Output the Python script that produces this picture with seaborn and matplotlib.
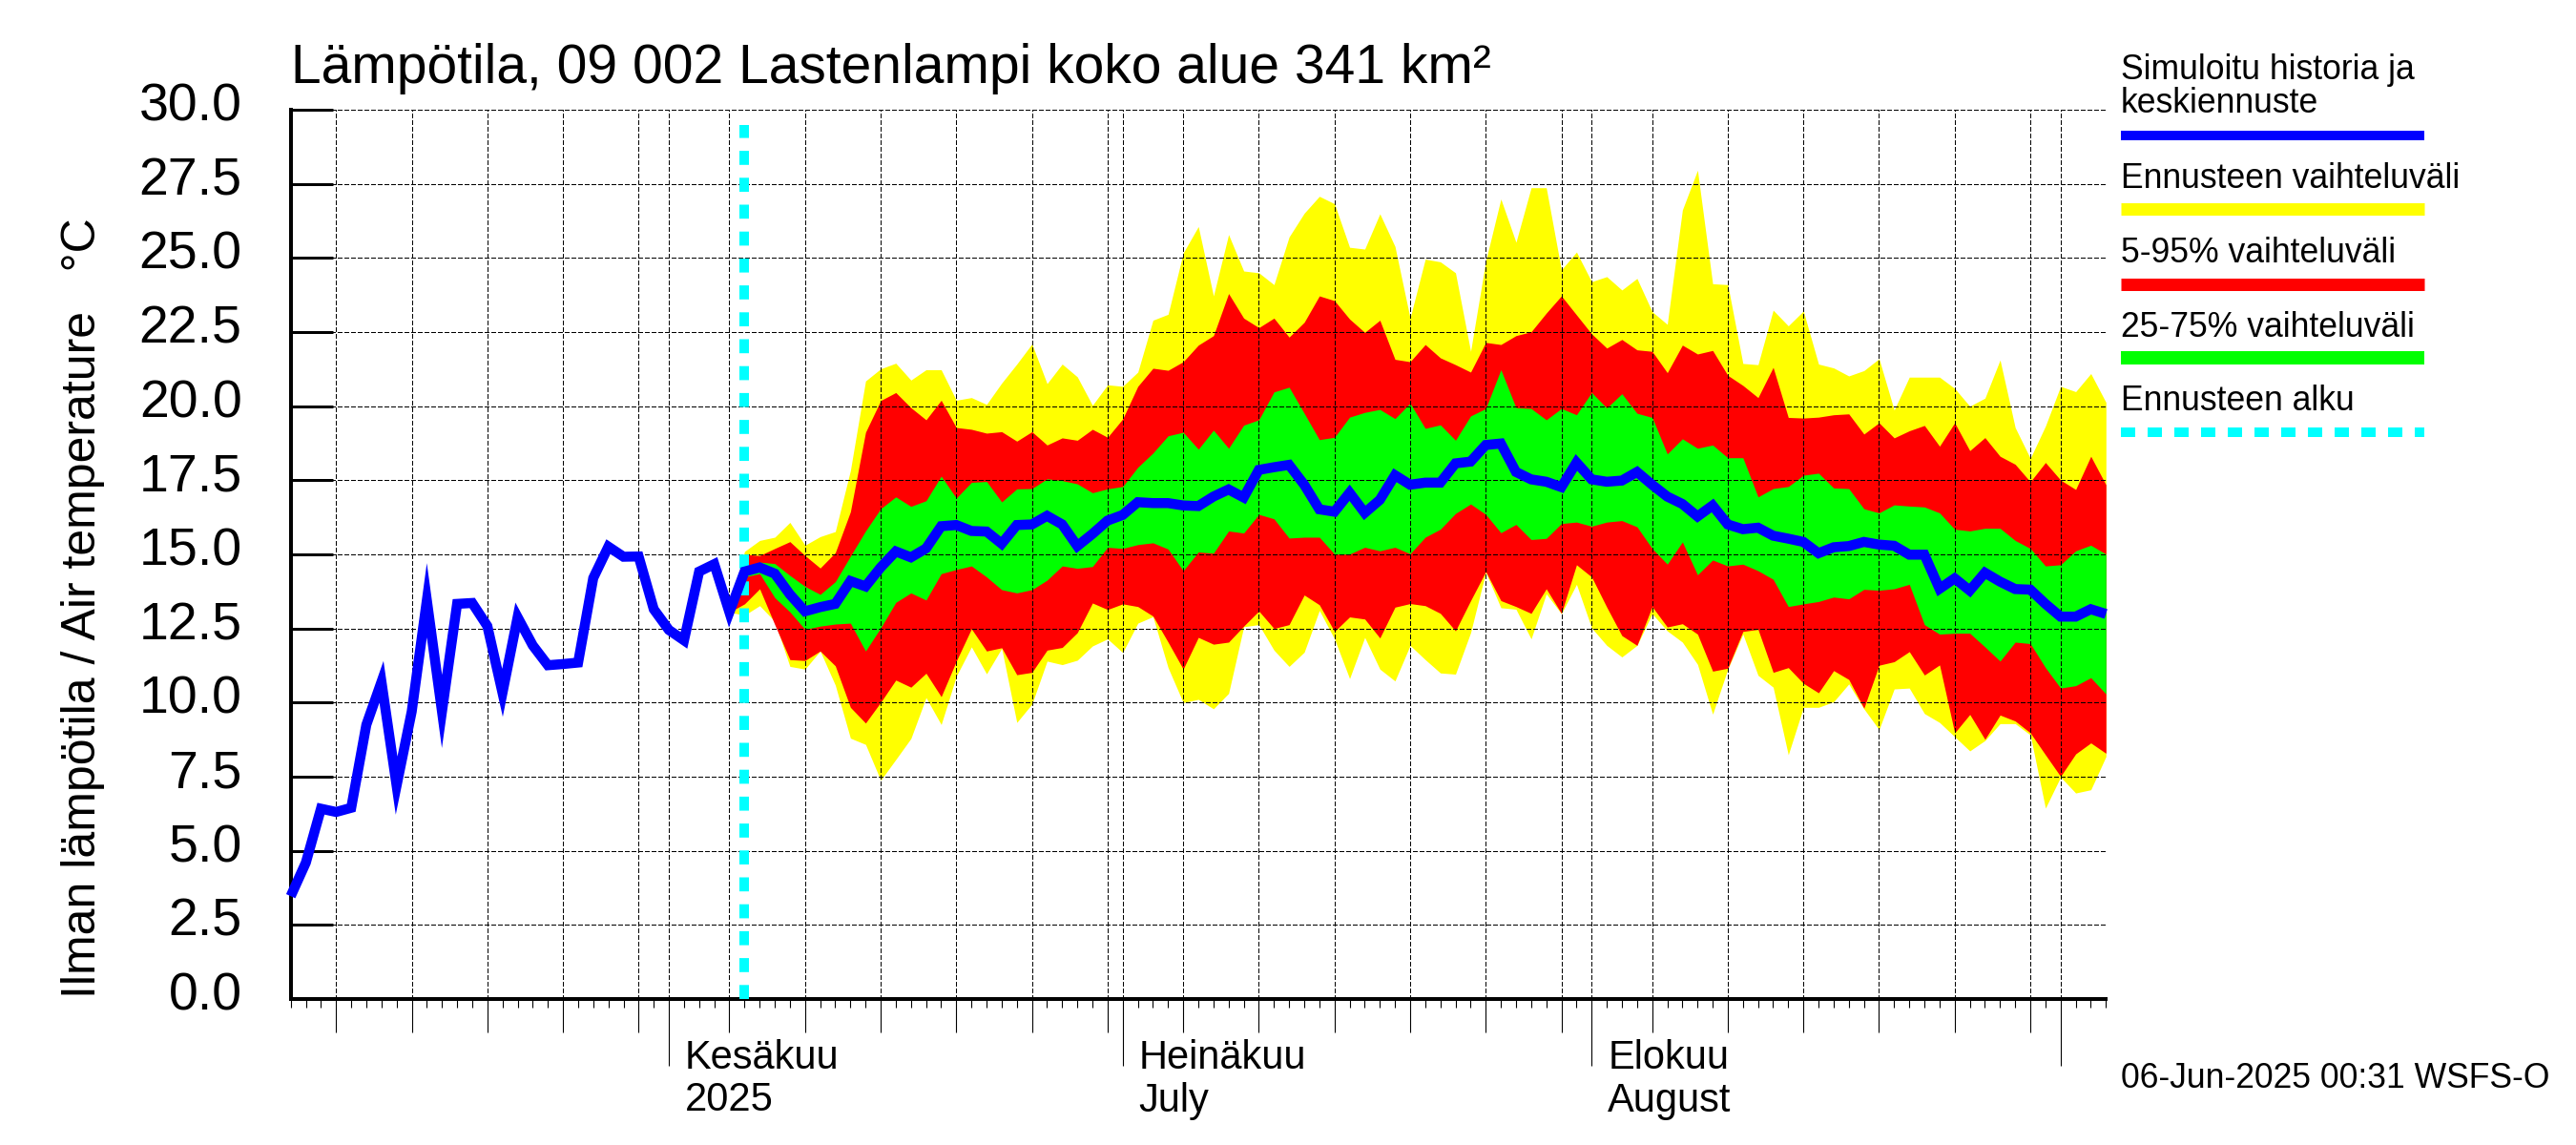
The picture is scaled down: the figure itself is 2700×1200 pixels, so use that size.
import numpy as np
import pandas as pd
import matplotlib
matplotlib.use("Agg")
import matplotlib.pyplot as plt
import matplotlib.dates as mdates
import seaborn as sns
from matplotlib.lines import Line2D
from matplotlib.transforms import ScaledTranslation

# daily values, 7 May - 4 Sep 2025
dates = pd.date_range("2025-05-07", "2025-09-04", freq="D")
forecast_start = pd.Timestamp("2025-06-06")

temp_mean = [
    3.47, 4.6, 6.42, 6.31, 6.45, 9.25, 10.7, 7.2, 9.7, 13.45,
    9.7, 13.33, 13.36, 12.58, 10.33, 12.88, 11.93, 11.26, 11.3, 11.35,
    14.2, 15.26, 14.92, 14.93, 13.15, 12.45, 12.1, 14.42, 14.67, 13.05,
    14.42, 14.56, 14.35, 13.65, 13.08, 13.22, 13.33, 14.1, 13.92, 14.56,
    15.1, 14.9, 15.2, 15.95, 15.99, 15.79, 15.77, 15.36, 15.99, 16.01,
    16.3, 16.01, 15.28, 15.69, 16.14, 16.33, 16.76, 16.73, 16.73, 16.65,
    16.63, 16.95, 17.19, 16.92, 17.85, 17.94, 18.02, 17.35, 16.52, 16.44,
    17.08, 16.4, 16.84, 17.67, 17.35, 17.42, 17.42, 18.07, 18.13, 18.69,
    18.74, 17.78, 17.53, 17.45, 17.27, 18.1, 17.53, 17.45, 17.49, 17.78,
    17.35, 16.95, 16.7, 16.28, 16.65, 16.01, 15.85, 15.9, 15.63, 15.53,
    15.42, 15.04, 15.24, 15.28, 15.42, 15.33, 15.29, 14.99, 14.99, 13.84,
    14.19, 13.78, 14.38, 14.08, 13.83, 13.81, 13.33, 12.9, 12.9, 13.15, 12.99,
]

# bands start on 5 Jun, where they all leave the simulated line
range_high = [
    13.05, 15.1, 15.47, 15.58, 16.08, 15.31, 15.6, 15.77, 17.83, 20.85, 21.26,
    21.45, 20.88, 21.23, 21.23, 20.2, 20.29, 20.06, 20.78, 21.42, 22.1,
    20.76, 21.42, 20.99, 20.03, 20.72, 20.67, 21.15, 22.9, 23.1, 25.17,
    26.06, 23.72, 25.79, 24.56, 24.5, 24.1, 25.71, 26.51, 27.08, 26.83,
    25.36, 25.3, 26.49, 25.39, 22.97, 24.96, 24.87, 24.5, 21.85, 24.9,
    26.99, 25.53, 27.37, 27.37, 24.6, 25.2, 24.2, 24.37, 23.92, 24.31,
    23.19, 22.76, 26.62, 27.96, 24.13, 24.1, 21.44, 21.4, 23.24, 22.71,
    23.21, 21.42, 21.29, 21.02, 21.2, 21.6, 19.87, 20.98, 20.98, 20.98,
    20.6, 20.0, 20.27, 21.56, 19.28, 18.24, 19.33, 20.67, 20.49, 21.1, 20.13,
]
range_low = [
    13.05, 12.95, 13.27, 12.74, 11.22, 11.13, 11.74, 10.59, 8.8, 8.59, 7.38,
    8.08, 8.79, 10.17, 9.26, 10.89, 11.88, 10.97, 11.83, 9.33, 9.95,
    11.4, 11.28, 11.43, 11.91, 12.15, 11.69, 12.68, 12.9, 11.18, 10.0,
    10.11, 9.79, 10.31, 12.56, 12.63, 11.77, 11.22, 11.7, 13.11, 12.15,
    10.81, 12.2, 11.13, 10.73, 11.93, 11.45, 11.0, 10.96, 12.36, 14.4,
    13.2, 13.15, 12.15, 13.67, 13.0, 13.99, 12.52, 11.93, 11.54, 11.93,
    13.0, 12.42, 12.04, 11.29, 9.61, 11.13, 12.31, 10.92, 10.52, 8.24,
    9.84, 9.84, 10.03, 10.63, 9.79, 9.09, 10.46, 10.49, 9.63, 9.33,
    8.85, 8.37, 8.72, 9.29, 9.29, 8.91, 6.44, 7.49, 6.95, 7.06, 8.18,
]
p95 = [
    13.05, 15.0, 14.96, 15.2, 15.43, 14.96, 14.54, 15.06, 16.44, 19.12, 20.19,
    20.46, 19.95, 19.54, 20.2, 19.28, 19.22, 19.09, 19.14, 18.82, 19.14,
    18.69, 18.93, 18.85, 19.22, 18.95, 19.57, 20.67, 21.28, 21.21, 21.5,
    22.06, 22.38, 23.8, 22.97, 22.65, 22.97, 22.33, 22.83, 23.72, 23.56,
    22.94, 22.49, 22.9, 21.58, 21.5, 22.08, 21.63, 21.4, 21.15, 22.15,
    22.08, 22.38, 22.51, 23.14, 23.72, 23.08, 22.44, 21.96, 22.25, 21.9,
    21.85, 21.13, 22.06, 21.76, 21.88, 21.04, 20.7, 20.29, 21.31, 19.62,
    19.6, 19.63, 19.71, 19.74, 19.06, 19.44, 18.93, 19.17, 19.35, 18.65,
    19.44, 18.5, 18.94, 18.31, 18.04, 17.45, 18.1, 17.51, 17.19, 18.31, 17.35,
]
p05 = [
    13.05, 13.33, 13.84, 12.63, 11.45, 11.42, 11.74, 11.24, 9.84, 9.31, 10.01,
    10.76, 10.52, 10.99, 10.2, 11.4, 12.49, 11.74, 11.85, 10.94, 11.02,
    11.77, 11.86, 12.36, 13.36, 13.14, 13.33, 13.24, 12.92, 12.04, 11.13,
    12.2, 11.97, 12.04, 12.58, 13.09, 12.5, 12.63, 13.63, 13.3, 12.4,
    12.89, 12.82, 12.18, 13.22, 13.34, 13.27, 13.01, 12.42, 13.44, 14.42,
    13.44, 13.24, 13.01, 13.84, 13.01, 14.65, 14.24, 13.22, 12.26, 11.93,
    13.24, 12.55, 12.66, 12.31, 11.06, 11.16, 12.4, 12.47, 11.02, 11.18,
    10.65, 10.33, 11.08, 10.78, 9.81, 11.26, 11.38, 11.72, 10.93, 11.27,
    8.98, 9.6, 8.76, 9.58, 9.38, 8.98, 8.24, 7.51, 8.27, 8.64, 8.29,
]
p75 = [
    13.05, 14.4, 14.74, 14.69, 14.29, 13.92, 13.65, 14.08, 14.94, 15.79, 16.54,
    16.94, 16.62, 16.81, 17.64, 16.9, 17.43, 17.46, 16.77, 17.21, 17.22,
    17.55, 17.49, 17.38, 17.08, 17.21, 17.29, 17.94, 18.42, 19.0, 19.12,
    18.55, 19.19, 18.58, 19.36, 19.54, 20.48, 20.64, 19.76, 18.87, 18.95,
    19.63, 19.79, 19.89, 19.58, 20.1, 19.25, 19.37, 18.85, 19.67, 19.92,
    21.23, 19.95, 19.92, 19.54, 19.92, 19.71, 20.46, 19.94, 20.42, 19.76,
    19.62, 18.39, 18.9, 18.58, 18.69, 18.26, 18.26, 16.94, 17.22, 17.29,
    17.67, 17.74, 17.24, 17.22, 16.54, 16.4, 16.67, 16.63, 16.6, 16.4,
    15.85, 15.79, 15.88, 15.88, 15.47, 15.2, 14.61, 14.65, 15.12, 15.31, 15.01,
]
p25 = [
    13.05, 14.24, 14.35, 13.54, 13.06, 12.47, 12.58, 12.65, 12.68, 11.74, 12.52,
    13.38, 13.7, 13.46, 14.35, 14.49, 14.61, 14.24, 13.81, 13.7, 13.81,
    14.13, 14.61, 14.53, 14.59, 15.24, 15.2, 15.33, 15.39, 15.18, 14.45,
    15.08, 15.04, 15.79, 15.72, 16.35, 16.2, 15.55, 15.58, 15.58, 15.01,
    15.01, 15.24, 15.12, 15.24, 15.02, 15.58, 15.85, 16.38, 16.7, 16.35,
    15.73, 16.01, 15.5, 15.54, 16.04, 16.09, 15.95, 16.09, 16.14, 15.93,
    15.2, 14.67, 15.42, 14.31, 14.81, 14.61, 14.67, 14.45, 14.16, 13.24,
    13.33, 13.41, 13.56, 13.5, 13.82, 13.79, 13.84, 13.99, 12.63, 12.31,
    12.34, 12.34, 11.88, 11.4, 12.04, 11.99, 11.18, 10.49, 10.57, 10.84, 10.29,
]

y_ticks = np.arange(0, 30.1, 2.5)
month_labels = [("2025-06-01", "Kesäkuu", "2025"),
                ("2025-07-01", "Heinäkuu", "July"),
                ("2025-08-01", "Elokuu", "August")]

BLUE, YELLOW, RED, GREEN, CYAN = "#0000ff", "#ffff00", "#ff0000", "#00ff00", "#00ffff"
W, H = 2700, 1200
PX = 0.72  # points per pixel at dpi 100

sns.set_theme(style="white")
plt.rcParams["font.family"] = ["Liberation Sans", "DejaVu Sans"]

fig = plt.figure(figsize=(27, 12), dpi=100)
ax = fig.add_axes([304.7 / W, 1 - 1047 / H, (2207.3 - 304.7) / W, (1047 - 115) / H])

band_dates = dates[29:]
for low, high, color in [(range_low, range_high, YELLOW), (p05, p95, RED), (p25, p75, GREEN)]:
    ax.fill_between(band_dates, low, high, color=color, lw=0, antialiased=False, zorder=1)

ax.axvline(forecast_start, ymin=0, ymax=29.5 / 30, color=CYAN, lw=10 * PX,
           ls=(0, (1.47, 1.35)), dash_capstyle="butt", zorder=3)

df = pd.DataFrame({"date": dates, "temp": temp_mean})
sns.lineplot(data=df, x="date", y="temp", color=BLUE, linewidth=10.5 * PX, estimator=None,
             ax=ax, zorder=4, clip_on=False, solid_joinstyle="miter", solid_capstyle="butt")

ax.set_xlim(dates[0], dates[-1])
ax.set_ylim(0, 30)

# x axis: day ticks, longer every 5 days, longest on the 1st of a month
major = [d for d in dates if d.day in (1, 5, 10, 15, 20, 25, 30)] + [dates[-1]]
ax.set_xticks(major)
ax.set_xticks(dates, minor=True)
ax.set_xticklabels([])
ax.set_yticks(y_ticks)
ax.set_yticklabels([f"{v:.1f}" for v in y_ticks])
ax.set_xlabel("")

ax.tick_params(axis="x", which="both", bottom=True, direction="out", width=1.1 * PX, color="black")
ax.tick_params(axis="x", which="minor", length=9 * PX)
ax.tick_params(axis="y", direction="in", left=True, length=44 * PX, width=3 * PX,
               labelsize=40, pad=51 * PX, color="black", labelcolor="black")
for tick, d in zip(ax.xaxis.get_major_ticks(), major):
    if d == dates[-1]:
        px = 9
    elif d.day == 1:
        px = 70
    else:
        px = 35
    tick.tick1line.set_markersize(px * PX)

# tick labels sit a bit above their ticks in the original
for lab in ax.get_yticklabels():
    lab.set_transform(lab.get_transform() + ScaledTranslation(0, 8.5 / 100, fig.dpi_scale_trans))

ax.set_axisbelow(False)
ax.grid(True, which="major", color="black", lw=1.2 * PX, ls=(0, (4, 2.2)))
for gl in ax.get_xgridlines() + ax.get_ygridlines():
    gl.set_antialiased(False)

for side in ("top", "right"):
    ax.spines[side].set_visible(False)
for side, px in (("left", 4), ("bottom", 4)):
    ax.spines[side].set_color("black")
    ax.spines[side].set_linewidth(px * PX)

ax.set_title("Lämpötila, 09 002 Lastenlampi koko alue 341 km²", loc="left", fontsize=41, pad=28 * PX, color="black")
ax.set_ylabel("Ilman lämpötila / Air temperature   °C", fontsize=36, color="black")
ax.yaxis.set_label_coords((100 - 305) / (2207.6 - 305), 1 / 932)
ax.yaxis.label.set_ha("left")
ax.yaxis.label.set_va("baseline")

for day, line1, line2 in month_labels:
    for text, drop in ((line1, 73), (line2, 117.5)):
        ax.annotate(text, xy=(mdates.date2num(pd.Timestamp(day)), 0), xycoords=ax.get_xaxis_transform(),
                    xytext=(17 * PX, -drop * PX), textcoords="offset points",
                    fontsize=30, va="baseline", ha="left", color="black")


def fig_text(x_px, y_px, text, size=25.6):
    fig.text(x_px / W, 1 - y_px / H, text, fontsize=size, va="baseline", ha="left", color="black")


def key_line(y_px, thick_px, color, **kw):
    fig.add_artist(Line2D([2223 / W, 2541 / W], [1 - y_px / H] * 2, color=color, lw=thick_px * PX,
                          solid_capstyle="butt", dash_capstyle="butt", **kw))


fig_text(2223, 83, "Simuloitu historia ja")
fig_text(2223, 118, "keskiennuste")
key_line(142, 10, BLUE)
fig_text(2223, 197, "Ennusteen vaihteluväli")
key_line(219.5, 13, YELLOW)
fig_text(2223, 275, "5-95% vaihteluväli")
key_line(297.5, 13, RED)
fig_text(2223, 353, "25-75% vaihteluväli")
key_line(375, 14, GREEN)
fig_text(2223, 430, "Ennusteen alku")
key_line(453, 10, CYAN, ls=(0, (1.5, 1.3)))
fig_text(2223, 1140.5, "06-Jun-2025 00:31 WSFS-O")

fig.savefig("out.png", dpi=100, facecolor="white")
